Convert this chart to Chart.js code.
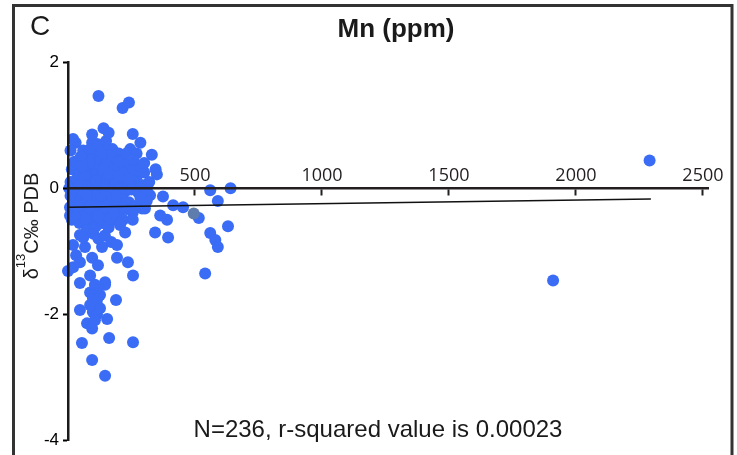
<!DOCTYPE html>
<html>
<head>
<meta charset="utf-8">
<script src="https://cdn.jsdelivr.net/npm/chart.js@4.4.0/dist/chart.umd.min.js"></script>
<style>
  html, body { margin: 0; padding: 0; background: #fff; }
</style>
</head>
<body>
<canvas id="grafica" width="737" height="455"></canvas>
<script>
// Mn (ppm) y δ13C de cada muestra, fila por fila
const mnPpm = [
    120, 215, 240, 20, 30, 10, 255, 285, 245, 330, 350, 345,
    640, 560, 590, 630, 560, 580, 590, 515, 540, 390, 363, 343, 394, 414, 453, 374, 303, 323, 303, 292,
    40, 15, 47, 67, 134, 193, 217, 95, 118, 193, 236, 0, 20, 87, 256, 146, 8, 8, 20, 32, 47,
    47, 146, 87, 98, 114, 189, 47, 98, 75, 95, 154, 55, 162, 256, 95, 146, 106, 114, 126, 114, 106, 87, 126, 118, 106,
    2290, 1910,
    95, 130, 150, 110, 175, 200, 60, 85,
    70, 100, 120, 140, 160, 185, 215, 235, 260, 40, 25, 280,
    15, 45, 65, 90, 110, 130, 150, 170, 195, 220, 245, 270, 300, 80, 125,
    10, 35, 55, 75, 100, 120, 140, 160, 185, 205, 230, 255, 290, 320,
    5, 30, 60, 85, 105, 130, 150, 175, 200, 225, 250, 275, 310,
    20, 50, 70, 95, 115, 140, 165, 190, 215, 240, 265, 10,
    35, 60, 80, 105, 125, 150, 175, 200, 230, 255,
    45, 90, 110, 135, 160, 185, 205, 75,
    100, 120, 145, 170, 60,
    88, 115, 140, 165, 50, 80, 105, 130, 155, 175, 200,
    95, 115, 135, 155, 180, 210, 240, 65, 45, 85,
    110, 130, 150, 170, 190, 60, 40, 90, 120, 145, 165, 215, 25, 70,
    100, 125, 150, 180, 85, 110, 140, 160, 200, 55, 75, 130, 180,
    230, 270, 300, 310, 285, 255, 225,
    140, 160, 95
];
const d13cPdb = [
    1.46, 1.27, 1.36, 0.78, 0.72, 0.60, 0.86, 0.72, 0.62, 0.53, 0.22, 0.30,
    0.00, -0.03, -0.20, -0.60, -0.71, -0.82, -0.93, -0.47, -1.35, -0.50, -0.43, -0.70, -0.78, -0.27, -0.30, -0.13, -0.08, -0.11, -0.32, -0.32,
    -0.16, -0.50, -0.74, -0.93, -0.93, -0.90, -0.50, -1.10, -1.22, -1.10, -1.17, -1.31, -1.25, -1.38, -1.38, -1.49, -0.30, -0.43, -0.90, -1.06, -1.17,
    -1.50, -1.53, -1.65, -1.74, -1.85, -1.77, -1.93, -1.96, -2.14, -2.22, -2.07, -2.45, -2.37, -2.44, -2.72, -2.97, -1.69, -1.77, -1.90, -2.00, -2.09, -1.85, -1.69, -1.58, -1.53,
    0.44, -1.46,
    0.72, 0.68, 0.75, 0.58, 0.62, 0.55, 0.60, 0.52,
    0.45, 0.48, 0.42, 0.50, 0.44, 0.40, 0.46, 0.38, 0.42, 0.36, 0.42, 0.30,
    0.30, 0.25, 0.30, 0.28, 0.33, 0.22, 0.30, 0.25, 0.32, 0.20, 0.28, 0.18, 0.25, 0.20, 0.35,
    0.10, 0.15, 0.08, 0.12, 0.16, 0.06, 0.14, 0.10, 0.05, 0.15, 0.08, 0.12, 0.05, 0.10,
    0.00, -0.05, 0.02, -0.03, 0.00, -0.04, 0.02, -0.02, 0.00, -0.05, -0.02, -0.06, -0.03,
    -0.20, -0.15, -0.22, -0.18, -0.25, -0.15, -0.20, -0.23, -0.17, -0.22, -0.28, -0.12,
    -0.35, -0.40, -0.32, -0.38, -0.30, -0.42, -0.35, -0.40, -0.33, -0.38,
    -0.55, -0.50, -0.60, -0.55, -0.62, -0.50, -0.58, -0.65,
    -0.72, -0.80, -0.75, -0.85, -0.78,
    0.62, 0.70, 0.60, 0.52, 0.50, 0.38, 0.40, 0.47, 0.36, 0.33, 0.42,
    0.10, 0.22, 0.08, 0.20, 0.15, 0.25, 0.15, 0.18, 0.05, 0.06,
    -0.10, -0.12, -0.08, -0.10, -0.12, -0.08, -0.28, -0.28, -0.45, -0.30, -0.48, -0.30, -0.45, -0.48,
    0.05, 0.18, 0.38, 0.28, 0.40, 0.12, 0.30, 0.22, 0.20, 0.35, -0.10, 0.55, -0.40,
    0.55, 0.55, 0.40, -0.20, -0.15, -0.50, -0.70,
    0.95, 0.88, 0.85
];

// muestra marcada en gris
const mnGris = [495];
const d13cGris = [-0.40];

// recta de regresión
const rectaMn = [0, 2295];
const rectaD13c = [-0.30, -0.17];

const ticksMn = [500, 1000, 1500, 2000, 2500];
const ticksD13c = [-4, -2, 0, 2];

const aPuntos = (xs, ys) => xs.map((x, i) => ({ x: x, y: ys[i] }));

// Marco del panel y textos fijos
const marco = {
    id: 'marco',
    beforeDraw(chart) {
        const ctx = chart.ctx;
        ctx.save();
        ctx.fillStyle = '#fff';
        ctx.fillRect(0, 0, chart.width, chart.height);
        ctx.strokeStyle = '#333';
        ctx.lineWidth = 3;
        ctx.beginPath();
        ctx.moveTo(13.5, chart.height);
        ctx.lineTo(13.5, 5.5);
        ctx.lineTo(732, 5.5);
        ctx.lineTo(732, chart.height);
        ctx.stroke();
        ctx.restore();
    },
    afterDraw(chart) {
        const ctx = chart.ctx;
        ctx.save();
        ctx.fillStyle = '#1a1a1a';
        ctx.textBaseline = 'alphabetic';

        ctx.font = '28px "Liberation Sans", Arial, sans-serif';
        ctx.textAlign = 'left';
        ctx.fillText('C', 30, 35);

        ctx.font = 'bold 26px "Liberation Sans", Arial, sans-serif';
        ctx.textAlign = 'center';
        ctx.fillText('Mn (ppm)', 396, 37);

        ctx.font = '24px "Liberation Sans", Arial, sans-serif';
        ctx.fillText('N=236, r-squared value is 0.00023', 378, 437);

        // título del eje y, con el 13 en superíndice
        ctx.translate(31, 226);
        ctx.rotate(-Math.PI / 2);
        const fGrande = '20px "Liberation Sans", Arial, sans-serif';
        const fPeq = '13px "Liberation Sans", Arial, sans-serif';
        ctx.font = fGrande;
        const w1 = ctx.measureText('δ').width;
        const w3 = ctx.measureText('C‰ PDB').width;
        ctx.font = fPeq;
        const w2 = ctx.measureText('13').width;
        let pos = -(w1 + w2 + w3) / 2;
        ctx.textAlign = 'left';
        ctx.font = fGrande;
        ctx.fillText('δ', pos, 7);
        pos += w1;
        ctx.font = fPeq;
        ctx.fillText('13', pos, -6);
        pos += w2;
        ctx.font = fGrande;
        ctx.fillText('C‰ PDB', pos, 7);
        ctx.restore();
    }
};

new Chart(document.getElementById('grafica'), {
    type: 'scatter',
    data: {
        datasets: [
            {
                type: 'line',
                data: aPuntos(rectaMn, rectaD13c),
                borderColor: '#111',
                borderWidth: 1.5,
                pointRadius: 0,
                fill: false,
                clip: false
            },
            {
                data: aPuntos(mnGris, d13cGris),
                backgroundColor: '#5f7dac',
                pointRadius: 6,
                borderWidth: 0,
                clip: false
            },
            {
                data: aPuntos(mnPpm, d13cPdb),
                backgroundColor: '#3a6cf5',
                pointRadius: 6,
                borderWidth: 0,
                clip: false
            }
        ]
    },
    options: {
        responsive: false,
        animation: false,
        devicePixelRatio: 1,
        layout: { padding: { top: 62, left: 14, right: 29, bottom: 14 } },
        plugins: {
            legend: { display: false },
            tooltip: { enabled: false },
            title: { display: false }
        },
        scales: {
            x: {
                type: 'linear',
                min: 0,
                max: 2520,
                position: { y: 0 },
                afterBuildTicks: s => { s.ticks = ticksMn.map(v => ({ value: v })); },
                ticks: {
                    callback: v => String(v),
                    padding: -29,
                    z: 1,
                    maxRotation: 0,
                    autoSkip: false,
                    color: '#231f20',
                    font: { family: 'Open Sans', size: 18 }
                },
                grid: {
                    drawOnChartArea: false,
                    tickLength: 6,
                    tickWidth: 2,
                    tickColor: '#231f20',
                    z: 1
                },
                border: { display: true, color: '#231f20', width: 2.5, z: 1 }
            },
            y: {
                type: 'linear',
                min: -4,
                max: 2,
                position: 'left',
                afterBuildTicks: s => { s.ticks = ticksD13c.map(v => ({ value: v })); },
                afterFit: s => { s.width = 54; },
                ticks: {
                    callback: v => String(v),
                    padding: 4,
                    z: 1,
                    color: '#000',
                    font: { family: 'Liberation Sans', size: 17 }
                },
                grid: {
                    drawOnChartArea: false,
                    tickLength: 5,
                    tickWidth: 2,
                    tickColor: '#000',
                    z: 1
                },
                border: { display: true, color: '#1a1a1a', width: 2.5, z: 1 }
            }
        }
    },
    plugins: [marco]
});
</script>
</body>
</html>
